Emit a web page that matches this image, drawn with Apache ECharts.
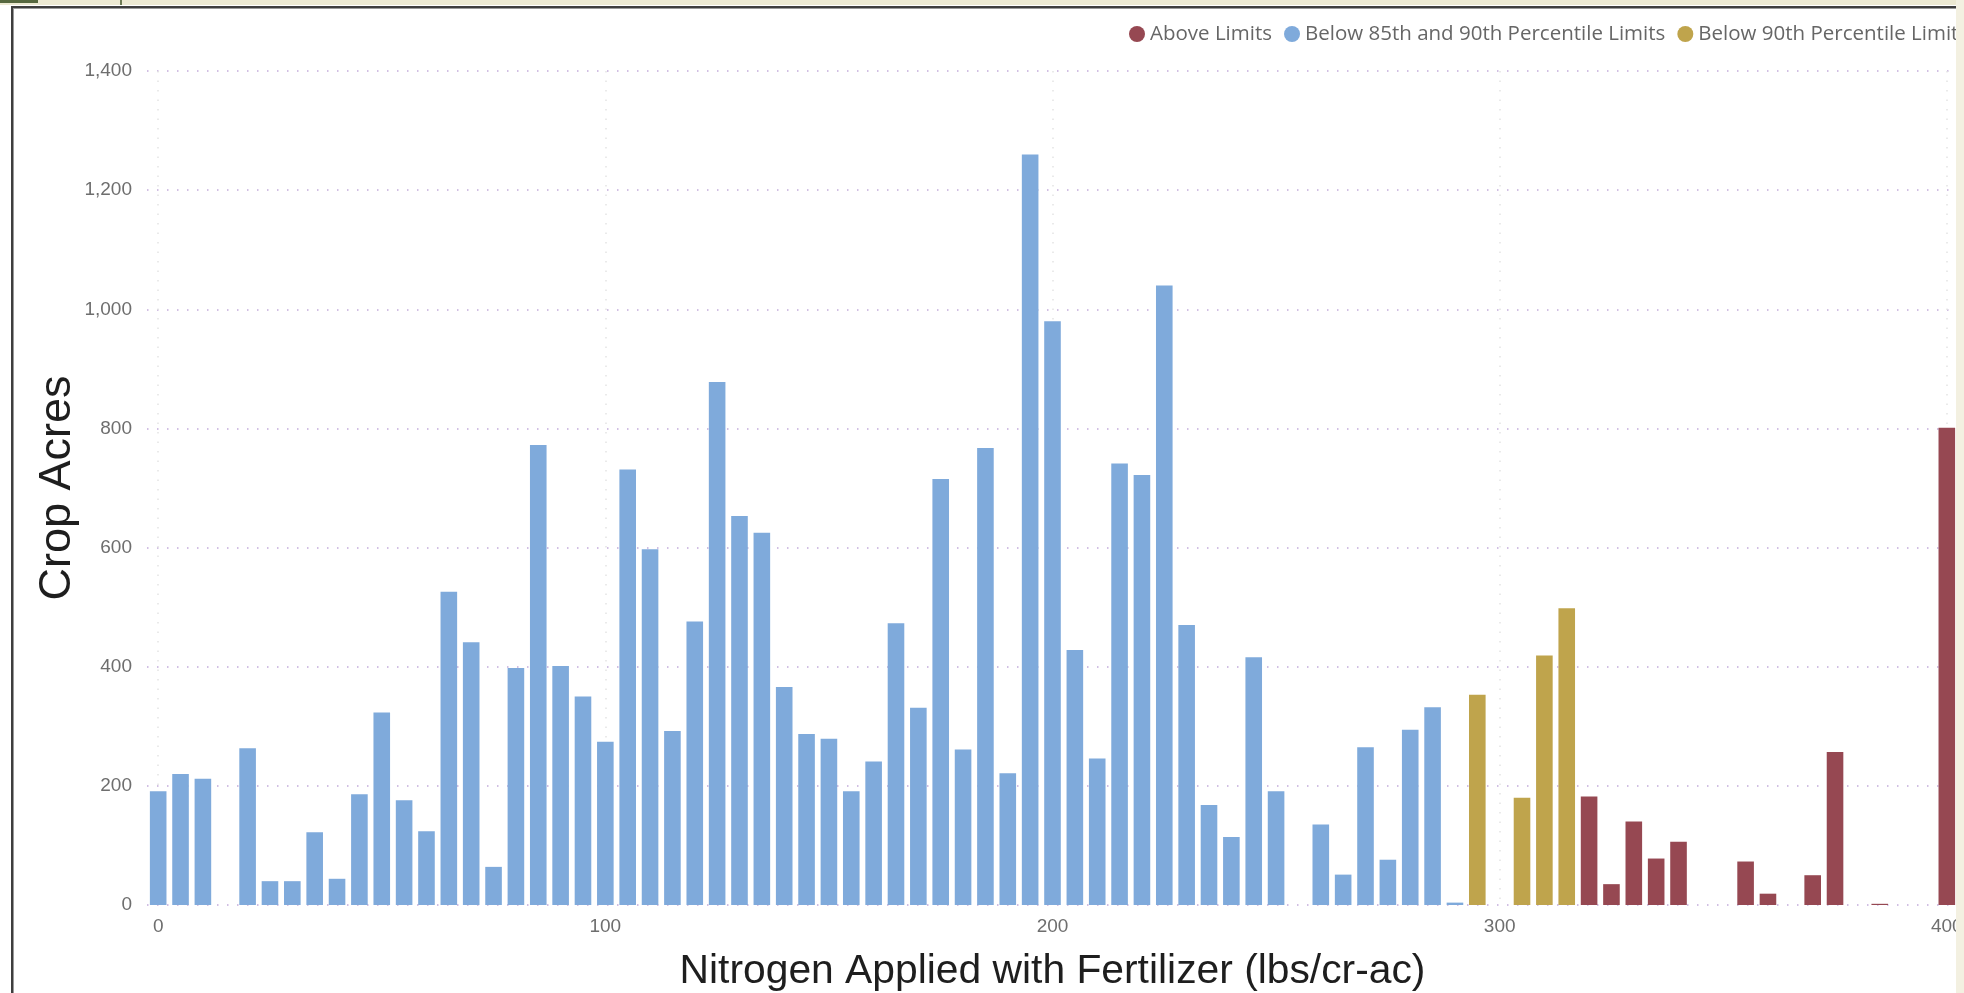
<!DOCTYPE html>
<html>
<head>
<meta charset="utf-8">
<script src="https://cdn.jsdelivr.net/npm/echarts@6/dist/echarts.min.js"></script>
<style>
  html, body { margin: 0; padding: 0; overflow: hidden; background: #ffffff; width: 1964px; height: 993px; }
  #chart { position: absolute; left: 0; top: 0; width: 2100px; height: 993px; }
  .deco { position: absolute; }
</style>
</head>
<body>
<div id="chart"></div>
<!-- surrounding report canvas decoration -->
<div class="deco" style="left:0;top:0;width:1964px;height:5px;background:#ECE9D2;z-index:5"></div>
<div class="deco" style="left:0;top:0;width:38px;height:3px;background:#56683F;z-index:6"></div>
<div class="deco" style="left:120px;top:0;width:2px;height:5px;background:#6E7B55;z-index:6"></div>
<div class="deco" style="left:11px;top:6px;width:1946px;height:2px;background:#3e3e3e;z-index:5"></div>
<div class="deco" style="left:11px;top:6px;width:2px;height:987px;background:#3e3e3e;z-index:5"></div>
<div class="deco" style="left:13px;top:8px;width:1px;height:985px;background:#9a9a9a;z-index:5"></div>
<div class="deco" style="left:13px;top:8px;width:1944px;height:1px;background:#9a9a9a;z-index:5"></div>
<div class="deco" style="left:1956px;top:0;width:8px;height:993px;background:#F3F0E1;z-index:7"></div>
<script>
// ---- data (x = nitrogen lbs/cr-ac, y = crop acres) ----
const legendNames = ['Above Limits', 'Below 85th and 90th Percentile Limits', 'Below 90th Percentile Limits'];

const below85and90 = [
  [0, 191], [5, 220], [10, 212], [20, 263], [25, 40], [30, 40], [35, 122], [40, 44],
  [45, 186], [50, 323], [55, 176], [60, 124], [65, 526], [70, 441], [75, 64], [80, 398],
  [85, 772], [90, 401], [95, 350], [100, 274], [105, 731], [110, 597], [115, 292], [120, 476],
  [125, 878], [130, 653], [135, 625], [140, 366], [145, 287], [150, 279], [155, 191], [160, 241],
  [165, 473], [170, 331], [175, 715], [180, 261], [185, 767], [190, 221], [195, 1260], [200, 980],
  [205, 428], [210, 246], [215, 741], [220, 722], [225, 1040], [230, 470], [235, 168], [240, 114],
  [245, 416], [250, 191], [260, 135], [265, 51], [270, 265], [275, 76], [280, 294], [285, 332],
  [290, 4]
];

const below90 = [
  [295, 353], [305, 180], [310, 419], [315, 498]
];

const aboveLimits = [
  [320, 182], [325, 35], [330, 140], [335, 78], [340, 106], [355, 73], [360, 19],
  [370, 50], [375, 257], [385, 2], [400, 801]
];

const xTickLabels = [0, 100, 200, 300, 400];
const yTickLabels = [0, 200, 400, 600, 800, 1000, 1200, 1400];

const colors = {
  above: '#964852',
  below: '#7FAADB',
  below90: '#BFA44C'
};

const chart = echarts.init(document.getElementById('chart'), null, { renderer: 'canvas' });

const tickFont = 'Liberation Sans, Arial, sans-serif';

chart.setOption({
  animation: false,
  backgroundColor: 'transparent',
  legend: {
    data: legendNames,
    left: 1124,
    top: 18.5,
    width: 1000,
    orient: 'horizontal',
    icon: 'circle',
    itemWidth: 16,
    itemHeight: 16,
    itemGap: 12,
    textStyle: { fontFamily: 'Open Sans, sans-serif', fontSize: 20.5, color: '#666666' }
  },
  grid: {
    left: 147, right: 2100 - 1958, top: 71, bottom: 993 - 905,
    containLabel: false,
    outerBoundsMode: 'none'
  },
  xAxis: {
    type: 'value',
    min: -2.5,
    max: 402.5,
    splitNumber: 4,
    name: 'Nitrogen Applied with Fertilizer (lbs/cr-ac)',
    nameLocation: 'middle',
    nameGap: 46,
    nameMoveOverlap: false,
    nameTextStyle: { fontFamily: tickFont, fontSize: 40.8, color: '#1e1e1e' },
    axisLine: { show: false },
    axisTick: { show: false },
    axisLabel: {
      showMinLabel: false,
      showMaxLabel: false,
      margin: 12,
      fontFamily: tickFont,
      fontSize: 19,
      color: '#6e6e6e',
      formatter: function (v) { return xTickLabels.indexOf(v) >= 0 ? String(v) : ''; }
    },
    splitLine: {
      show: true,
      showMinLine: false,
      showMaxLine: false,
      lineStyle: { color: '#e4e4e4', width: 1.5, type: [1.5, 8] }
    }
  },
  yAxis: {
    type: 'value',
    min: yTickLabels[0],
    max: yTickLabels[yTickLabels.length - 1],
    interval: 200,
    name: 'Crop Acres',
    nameLocation: 'middle',
    nameGap: 67,
    nameMoveOverlap: false,
    nameRotate: 90,
    nameTextStyle: { fontFamily: tickFont, fontSize: 45, color: '#1e1e1e' },
    axisLine: { show: false },
    axisTick: { show: false },
    axisLabel: {
      margin: 15,
      fontFamily: tickFont,
      fontSize: 19,
      color: '#6e6e6e',
      formatter: function (v) { return v.toLocaleString('en-US'); }
    },
    splitLine: {
      show: true,
      lineStyle: { color: '#c2aada', width: 1.5, type: [1.5, 8.5] }
    }
  },
  series: [
    {
      name: legendNames[0], type: 'bar', data: aboveLimits,
      barWidth: 16.6, barGap: '-100%',
      itemStyle: { color: colors.above }
    },
    {
      name: legendNames[1], type: 'bar', data: below85and90,
      barWidth: 16.6, barGap: '-100%',
      itemStyle: { color: colors.below }
    },
    {
      name: legendNames[2], type: 'bar', data: below90,
      barWidth: 16.6, barGap: '-100%',
      itemStyle: { color: colors.below90 }
    }
  ]
});
</script>
</body>
</html>
